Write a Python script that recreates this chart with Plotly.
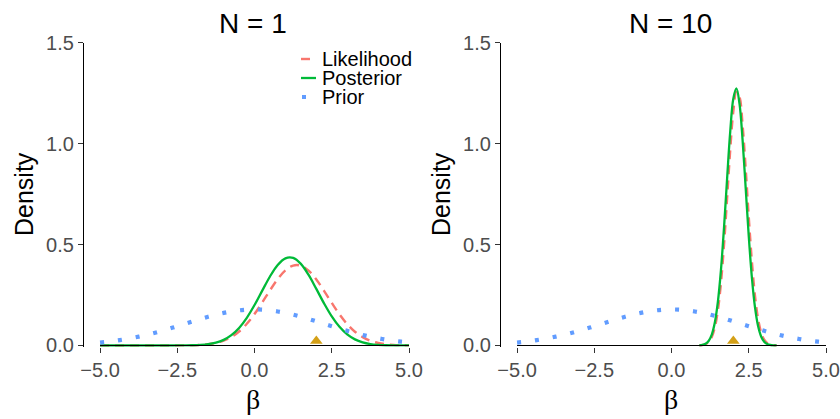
"""Prior, likelihood and posterior densities for beta after N = 1 and N = 10 observations."""

import plotly.graph_objects as go

# ---- data ------------------------------------------------------------------
true_beta = 2.0

# wide grid, used for the prior in both panels and for the N = 1 curves
beta_grid = [-5.0, -4.75, -4.5, -4.25, -4.0, -3.75, -3.5, -3.25, -3.0, -2.75,
             -2.5, -2.25, -2.0, -1.75, -1.5, -1.25, -1.0, -0.75, -0.5, -0.25,
             0.0, 0.25, 0.5, 0.75, 1.0, 1.25, 1.5, 1.75, 2.0, 2.25,
             2.5, 2.75, 3.0, 3.25, 3.5, 3.75, 4.0, 4.25, 4.5, 4.75, 5.0]

prior_density = [0.0146, 0.0187, 0.0235, 0.0293, 0.0360, 0.0437, 0.0524, 0.0620, 0.0725, 0.0837,
                 0.0955, 0.1075, 0.1196, 0.1313, 0.1425, 0.1526, 0.1614, 0.1686, 0.1740, 0.1773,
                 0.1784, 0.1773, 0.1740, 0.1686, 0.1614, 0.1526, 0.1425, 0.1313, 0.1196, 0.1075,
                 0.0955, 0.0837, 0.0725, 0.0620, 0.0524, 0.0437, 0.0360, 0.0293, 0.0235, 0.0187, 0.0146]

likelihood_n1 = [0.0, 0.0, 0.0, 0.0, 0.0, 0.0, 0.0, 0.0, 0.0, 0.0001,
                 0.0002, 0.0006, 0.0014, 0.0031, 0.0065, 0.0129, 0.0240, 0.0422, 0.0695, 0.1074,
                 0.1561, 0.2131, 0.2733, 0.3292, 0.3725, 0.3960, 0.3955, 0.3711, 0.3272, 0.2709,
                 0.2107, 0.1539, 0.1057, 0.0681, 0.0413, 0.0235, 0.0126, 0.0063, 0.0030, 0.0013, 0.0005]

posterior_n1 = [0.0, 0.0, 0.0, 0.0, 0.0, 0.0, 0.0, 0.0, 0.0, 0.0,
                0.0001, 0.0004, 0.0012, 0.0029, 0.0067, 0.0142, 0.0280, 0.0513, 0.0870, 0.1371,
                0.2004, 0.2717, 0.3418, 0.3989, 0.4319, 0.4338, 0.4043, 0.3496, 0.2804, 0.2086,
                0.1440, 0.0923, 0.0548, 0.0302, 0.0155, 0.0073, 0.0032, 0.0013, 0.0005, 0.0002, 0.0001]

# narrow grid around the N = 10 peak
beta_grid_n10 = [0.9, 1.0, 1.1, 1.2, 1.3, 1.4, 1.5, 1.6, 1.7, 1.8, 1.9, 2.0, 2.1,
                 2.2, 2.3, 2.4, 2.5, 2.6, 2.7, 2.8, 2.9, 3.0, 3.1, 3.2, 3.3, 3.4]

likelihood_n10 = [0.0007, 0.0021, 0.0063, 0.0168, 0.0404, 0.0880, 0.1733, 0.3098, 0.5005, 0.7321,
                  0.9687, 1.1598, 1.2563, 1.2315, 1.0923, 0.8765, 0.6364, 0.4182, 0.2486, 0.1338,
                  0.0651, 0.0287, 0.0114, 0.0041, 0.0013, 0.0004]

posterior_n10 = [0.0009, 0.0030, 0.0086, 0.0224, 0.0528, 0.1124, 0.2158, 0.3744, 0.5866, 0.8296,
                 1.0597, 1.2224, 1.2734, 1.1978, 1.0174, 0.7805, 0.5406, 0.3381, 0.1910, 0.0974,
                 0.0449, 0.0187, 0.0070, 0.0024, 0.0007, 0.0002]

panel_titles = ["N = 1", "N = 10"]
series_names = ["Likelihood", "Posterior", "Prior"]
x_ticks = [-5.0, -2.5, 0.0, 2.5, 5.0]
y_ticks = [0.0, 0.5, 1.0, 1.5]

# ---- styling ---------------------------------------------------------------
W, H = 840, 419
FONT = "Liberation Sans"
TICK_GREY = "#4D4D4D"
COL_LIK = "#F8766D"
COL_POST = "#00BA38"
COL_PRIOR = "#619CFF"
COL_TRUE = "#D4A017"

# pixel boxes of the two panels (left, right), shared top/bottom
panel_px = [(84, 409), (501, 826)]
top_px, bottom_px = 42.7, 346.7
x_range = [-5.52, 5.0]
y_range = [-0.006, 1.5]
tri_lift = 0.022  # raise the triangle so its base sits on the axis

panels = [
    (beta_grid, likelihood_n1, beta_grid, posterior_n1),
    (beta_grid_n10, likelihood_n10, beta_grid_n10, posterior_n10),
]


def label(text, x_px, y_px, size, family=FONT, **kw):
    fig.add_annotation(text=text, xref="paper", yref="paper",
                       x=x_px / W, y=1 - y_px / H, showarrow=False,
                       xanchor=kw.pop("xanchor", "center"), yanchor="middle",
                       font=dict(family=family, size=size, color="black"), **kw)


fig = go.Figure()

for i, (xl, lik, xp, post) in enumerate(panels):
    ax = "" if i == 0 else "2"
    xa, ya = "x" + ax, "y" + ax
    fig.add_trace(go.Scatter(
        x=xl, y=lik, xaxis=xa, yaxis=ya, mode="lines", line_shape="spline",
        line=dict(color=COL_LIK, width=2.4, dash="9px,6px"),
        name=series_names[0], showlegend=False,
    ))
    fig.add_trace(go.Scatter(
        x=xp, y=post, xaxis=xa, yaxis=ya, mode="lines", line_shape="spline",
        line=dict(color=COL_POST, width=2.3),
        name=series_names[1], showlegend=False,
    ))
    fig.add_trace(go.Scatter(
        x=beta_grid, y=prior_density, xaxis=xa, yaxis=ya, mode="lines", line_shape="spline",
        line=dict(color=COL_PRIOR, width=4.2, dash="4px,14px"),
        name=series_names[2], showlegend=False,
    ))
    fig.add_trace(go.Scatter(
        x=[true_beta], y=[tri_lift], xaxis=xa, yaxis=ya, mode="markers",
        marker=dict(symbol="triangle-up", size=11, color=COL_TRUE),
        cliponaxis=False, showlegend=False, hoverinfo="skip",
    ))

    l, r = panel_px[i]
    axis_common = dict(showgrid=False, zeroline=False, ticks="outside", ticklen=5,
                       tickcolor="#333333", tickwidth=1, automargin=False,
                       tickfont=dict(family=FONT, size=20, color=TICK_GREY))
    fig.update_layout({
        "xaxis" + ax: dict(domain=[l / W, r / W], range=x_range, anchor=ya,
                           tickvals=x_ticks, tickformat=".1f", showline=False,
                           **axis_common),
        "yaxis" + ax: dict(domain=[1 - bottom_px / H, 1 - top_px / H], range=y_range,
                           anchor=xa, tickvals=y_ticks, tickformat=".1f",
                           showline=True, linecolor="black", linewidth=1.2,
                           **axis_common),
    })
    # x axis line only across the tick span (detached from the y axis)
    fig.add_shape(type="line", xref=xa, yref=ya, x0=x_ticks[0], x1=x_ticks[-1],
                  y0=0, y1=0, line=dict(color="black", width=1.2), layer="above")

    cx = (l + r) / 2 + 7
    label(panel_titles[i], cx, 24, 28)
    label("β", cx, 399, 28, family="Liberation Serif")
    label("Density", l - 60, 194, 25, textangle=-90)

# hand-made legend in the first panel (short keys, tight spacing)
legend_rows = [59, 78, 97]
key_styles = [dict(color=COL_LIK, width=2.4, dash="9px,6px"),
              dict(color=COL_POST, width=2.3)]
for name, yy, k in zip(series_names, legend_rows, range(3)):
    if k < 2:
        fig.add_shape(type="line", xref="paper", yref="paper",
                      x0=301 / W, x1=(312 if k == 0 else 316) / W,
                      y0=1 - yy / H, y1=1 - yy / H, line=key_styles[k])
    else:
        fig.add_shape(type="rect", xref="paper", yref="paper",
                      x0=302 / W, x1=306 / W, y0=1 - (yy + 2) / H, y1=1 - (yy - 2) / H,
                      line=dict(width=0), fillcolor=COL_PRIOR)
    label(name, 320, yy, 20, xanchor="left")

fig.update_layout(
    width=W, height=H,
    margin=dict(l=0, r=0, t=0, b=0),
    plot_bgcolor="white", paper_bgcolor="white",
    showlegend=False,
)

# the page body has an 8px default margin; drop it so the figure fills the window
fig.write_html("out.html", config={"displayModeBar": False},
               post_script="document.body.style.margin = '0';")
